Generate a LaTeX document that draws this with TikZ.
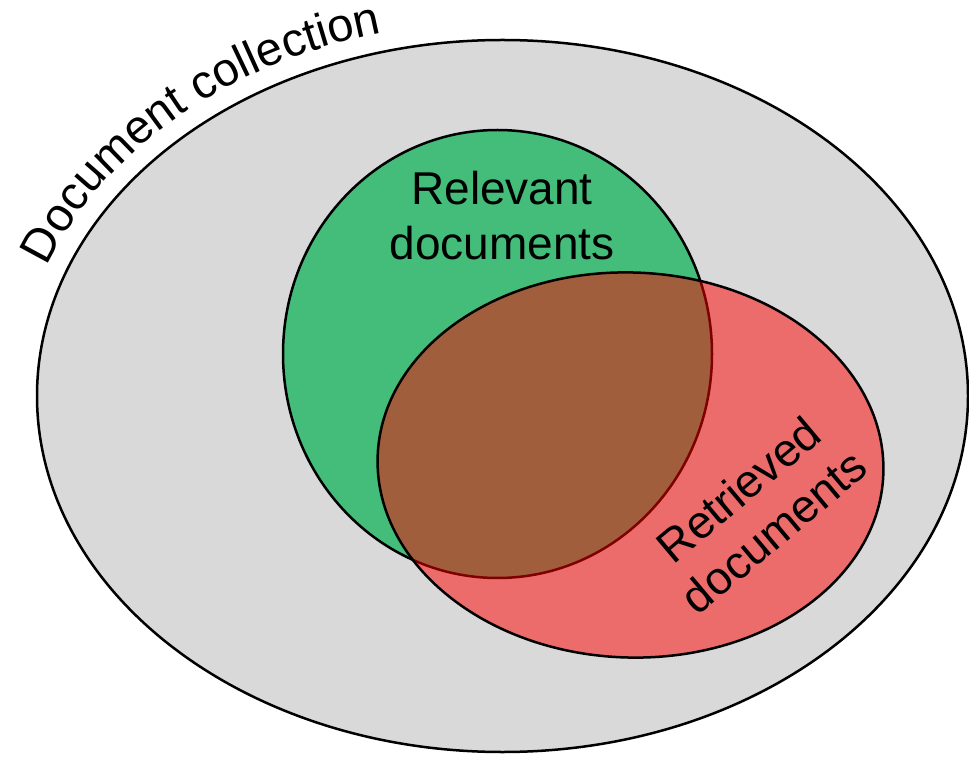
\documentclass[tikz,border=0pt]{standalone}
\usepackage{fontspec}
\setmainfont{Liberation Sans}
\usetikzlibrary{decorations.text}
\definecolor{collgray}{RGB}{217,217,217}
\definecolor{relgreen}{RGB}{67,189,121}
\definecolor{retred}{RGB}{255,0,0}
\begin{document}
\begin{tikzpicture}[x=1pt,y=1pt,
  outline/.style={draw=black, line width=2.5pt},
  lbl/.style={inner sep=0pt, anchor=base, font=\fontsize{46}{55}\selectfont}]
\useasboundingbox (0,0) rectangle (969,756);
% document collection
\draw[outline, fill=collgray] (502.5,360) ellipse [x radius=465.5, y radius=356];
% relevant
\draw[outline, fill=relgreen] (497.5,402) ellipse [x radius=214.5, y radius=224];
% retrieved
\draw[outline, fill=retred, fill opacity=0.5, draw opacity=1, rotate around={-2:(630.5,291)}]
  (630.5,291) ellipse [x radius=253, y radius=192.5];
% labels
\path[decorate, decoration={text along path, text align=center,
  text={|\fontsize{47}{56}\selectfont|Document collection}}]
  (502.5,360) ++(169:485 and 375) arc[start angle=169, end angle=97, x radius=485, y radius=375];
\node[lbl] (rel1) at (502,551) {Relevant};
\node[lbl] (rel2) at (502,496) {documents};
\node[lbl, rotate=40] (ret1) at (749,254) {Retrieved};
\node[lbl, rotate=40] (ret2) at (784,212) {documents};
\end{tikzpicture}
\end{document}
